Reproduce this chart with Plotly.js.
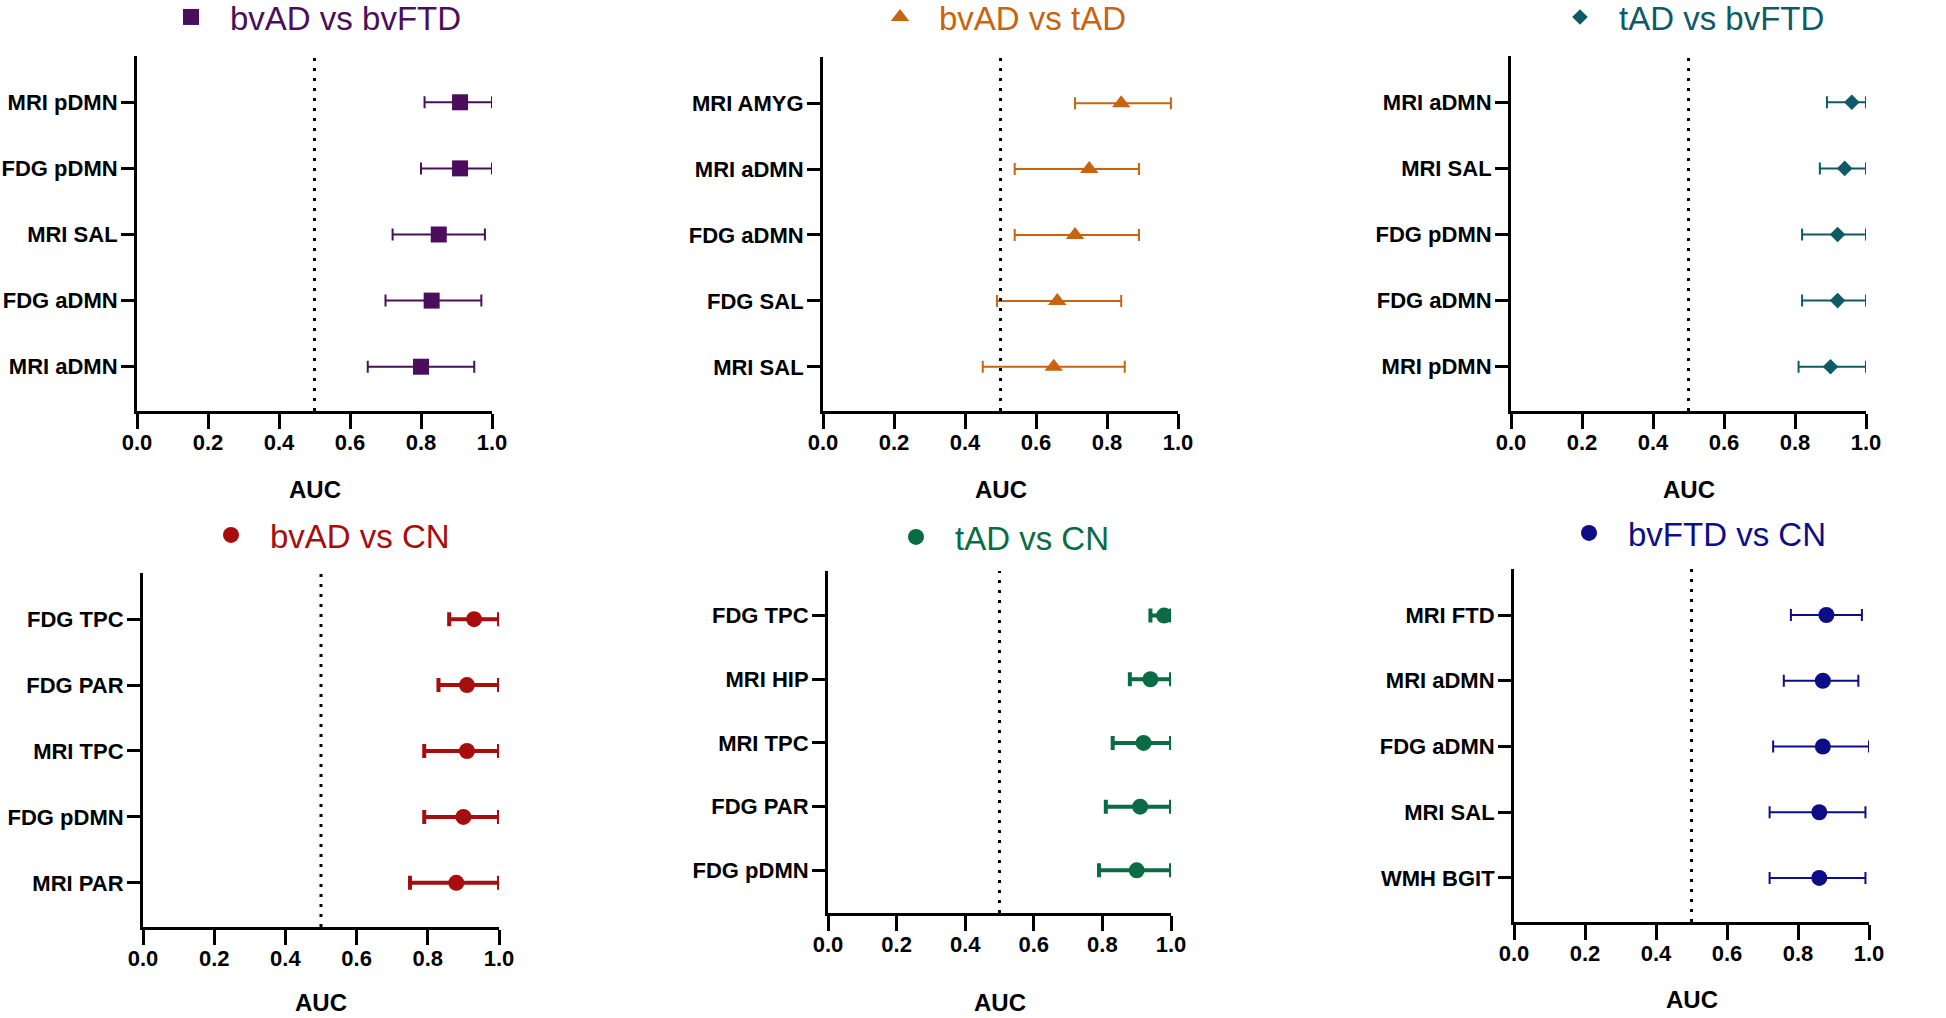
<!DOCTYPE html>
<html>
<head>
<meta charset="utf-8">
<script src="https://cdn.plot.ly/plotly-3.0.1.min.js"></script>
<style>
  html, body { margin: 0; padding: 0; background: #ffffff; }
  #chart { width: 1946px; height: 1018px; }
</style>
</head>
<body>
<div id="chart"></div>
<script>
// ---------------- DATA ----------------
const groupNames = ["bvAD vs bvFTD", "bvAD vs tAD", "tAD vs bvFTD", "bvAD vs CN", "tAD vs CN", "bvFTD vs CN"];

// Panel 1: bvAD vs bvFTD (top to bottom)
const labels_bvAD_bvFTD = ["MRI pDMN", "FDG pDMN", "MRI SAL", "FDG aDMN", "MRI aDMN"];
const auc_bvAD_bvFTD    = [0.91, 0.91, 0.85, 0.83, 0.80];
const lo_bvAD_bvFTD     = [0.81, 0.80, 0.72, 0.70, 0.65];
const hi_bvAD_bvFTD     = [1.00, 1.00, 0.98, 0.97, 0.95];

// Panel 2: bvAD vs tAD
const labels_bvAD_tAD = ["MRI AMYG", "MRI aDMN", "FDG aDMN", "FDG SAL", "MRI SAL"];
const auc_bvAD_tAD    = [0.84, 0.75, 0.71, 0.66, 0.65];
const lo_bvAD_tAD     = [0.71, 0.54, 0.54, 0.49, 0.45];
const hi_bvAD_tAD     = [0.98, 0.89, 0.89, 0.84, 0.85];

// Panel 3: tAD vs bvFTD
const labels_tAD_bvFTD = ["MRI aDMN", "MRI SAL", "FDG pDMN", "FDG aDMN", "MRI pDMN"];
const auc_tAD_bvFTD    = [0.96, 0.94, 0.92, 0.92, 0.90];
const lo_tAD_bvFTD     = [0.89, 0.87, 0.82, 0.82, 0.81];
const hi_tAD_bvFTD     = [1.00, 1.00, 1.00, 1.00, 1.00];

// Panel 4: bvAD vs CN
const labels_bvAD_CN = ["FDG TPC", "FDG PAR", "MRI TPC", "FDG pDMN", "MRI PAR"];
const auc_bvAD_CN    = [0.93, 0.91, 0.91, 0.90, 0.88];
const lo_bvAD_CN     = [0.86, 0.83, 0.79, 0.79, 0.75];
const hi_bvAD_CN     = [1.00, 1.00, 1.00, 1.00, 1.00];

// Panel 5: tAD vs CN
const labels_tAD_CN = ["FDG TPC", "MRI HIP", "MRI TPC", "FDG PAR", "FDG pDMN"];
const auc_tAD_CN    = [0.98, 0.94, 0.92, 0.91, 0.90];
const lo_tAD_CN     = [0.94, 0.88, 0.83, 0.81, 0.79];
const hi_tAD_CN     = [1.00, 1.00, 1.00, 1.00, 1.00];

// Panel 6: bvFTD vs CN
const labels_bvFTD_CN = ["MRI FTD", "MRI aDMN", "FDG aDMN", "MRI SAL", "WMH BGIT"];
const auc_bvFTD_CN    = [0.88, 0.87, 0.87, 0.86, 0.86];
const lo_bvFTD_CN     = [0.78, 0.76, 0.73, 0.72, 0.72];
const hi_bvFTD_CN     = [0.98, 0.97, 1.00, 0.99, 0.99];

const xTickVals = [0, 0.2, 0.4, 0.6, 0.8, 1.0];
const xTickText = ["0.0", "0.2", "0.4", "0.6", "0.8", "1.0"];
const chanceAUC = 0.5;
const axisTitle = "AUC";

// ---------------- STYLE ----------------
const panelLabels = [labels_bvAD_bvFTD, labels_bvAD_tAD, labels_tAD_bvFTD, labels_bvAD_CN, labels_tAD_CN, labels_bvFTD_CN];
const panelAuc    = [auc_bvAD_bvFTD, auc_bvAD_tAD, auc_tAD_bvFTD, auc_bvAD_CN, auc_tAD_CN, auc_bvFTD_CN];
const panelLo     = [lo_bvAD_bvFTD, lo_bvAD_tAD, lo_tAD_bvFTD, lo_bvAD_CN, lo_tAD_CN, lo_bvFTD_CN];
const panelHi     = [hi_bvAD_bvFTD, hi_bvAD_tAD, hi_tAD_bvFTD, hi_bvAD_CN, hi_tAD_CN, hi_bvFTD_CN];

const colors  = ["#4A0E5C", "#C8640F", "#0E5A66", "#A80D0D", "#0A6B45", "#0D0D88"];
const symbols = ["square", "triangle-up", "diamond", "circle", "circle", "circle"];
const msizes  = [16, 16, 12, 16, 16, 16];
const ethick  = [2, 2, 2, 4, 4, 2];
const ecap    = [6, 6, 6, 7, 7, 6];

const W = 1946, H = 1018;
// pixel boxes: [x0, x1, yTop, yBottom]
const boxes = [
  [137, 492, 56, 411],
  [823, 1178, 57, 411],
  [1511, 1866, 56, 411],
  [143, 499, 573, 927],
  [828, 1171, 571, 913],
  [1514, 1869, 569, 922]
];
const aucY = [489, 489, 489, 1002, 1002, 999];
// legend (panel title) positions: [left px, center y px]
const legendPos = [[152, 17], [861, 17], [1541, 17], [192, 535], [877, 537], [1550, 533]];

const FONT = "Liberation Sans, Arial, Helvetica, sans-serif";

const traces = [];
const layout = {
  width: W, height: H,
  margin: {l: 0, r: 0, t: 0, b: 0, pad: 0, autoexpand: false},
  paper_bgcolor: "#ffffff",
  plot_bgcolor: "#ffffff",
  showlegend: true,
  shapes: [],
  annotations: [],
  font: {family: FONT, color: "#000000"}
};

for (let i = 0; i < 6; i++) {
  const sfx = i === 0 ? "" : String(i + 1);
  const xa = "x" + sfx, ya = "y" + sfx;
  const legName = "legend" + sfx;
  const b = boxes[i];
  const auc = panelAuc[i];
  traces.push({
    type: "scatter",
    mode: "markers",
    name: groupNames[i],
    legend: legName,
    x: auc,
    y: panelLabels[i],
    xaxis: xa, yaxis: ya,
    marker: {symbol: symbols[i], size: msizes[i], color: colors[i], line: {width: 0}},
    error_x: {
      type: "data", symmetric: false,
      array: panelHi[i].map((h, k) => +(h - auc[k]).toFixed(4)),
      arrayminus: panelLo[i].map((l, k) => +(auc[k] - l).toFixed(4)),
      color: colors[i], thickness: ethick[i], width: ecap[i]
    },
    hoverinfo: "x+y"
  });

  layout["xaxis" + sfx] = {
    domain: [b[0] / W, b[1] / W],
    anchor: ya,
    range: [0, 1],
    tickvals: xTickVals, ticktext: xTickText,
    showgrid: false, zeroline: false,
    showline: true, linewidth: 3, linecolor: "#000000",
    ticks: "outside", ticklen: 15, tickwidth: 3, tickcolor: "#000000",
    ticklabelstandoff: -5,
    tickfont: {family: FONT, size: 22, color: "#000000", weight: 700},
    automargin: false,
    fixedrange: true
  };
  layout["yaxis" + sfx] = {
    domain: [1 - b[3] / H, 1 - b[2] / H],
    anchor: xa,
    type: "category",
    categoryorder: "array",
    categoryarray: panelLabels[i].slice().reverse(),
    range: [-0.67, 4.7],
    showgrid: false, zeroline: false,
    showline: true, linewidth: 3, linecolor: "#000000",
    ticks: "outside", ticklen: 13, tickwidth: 3, tickcolor: "#000000",
    ticklabelstandoff: -1,
    tickfont: {family: FONT, size: 22, color: "#000000", weight: 700},
    automargin: false,
    fixedrange: true
  };
  layout[legName] = {
    x: legendPos[i][0] / W, y: 1 - legendPos[i][1] / H,
    xanchor: "left", yanchor: "middle",
    xref: "paper", yref: "paper",
    bgcolor: "rgba(0,0,0,0)", borderwidth: 0,
    itemwidth: 68,
    font: {family: FONT, size: 33, color: colors[i]}
  };
  layout.shapes.push({
    type: "line", xref: xa, yref: ya + " domain",
    x0: chanceAUC, x1: chanceAUC, y0: 0, y1: 1,
    line: {color: "#000000", width: 3, dash: "3px,7px"}
  });
  layout.annotations.push({
    text: axisTitle, showarrow: false,
    xref: xa + " domain", x: 0.5, xanchor: "center",
    yref: "paper", y: 1 - aucY[i] / H, yanchor: "middle",
    font: {family: FONT, size: 24, color: "#000000", weight: 700}
  });
}

Plotly.newPlot("chart", traces, layout, {displayModeBar: false, staticPlot: true});
</script>
</body>
</html>
